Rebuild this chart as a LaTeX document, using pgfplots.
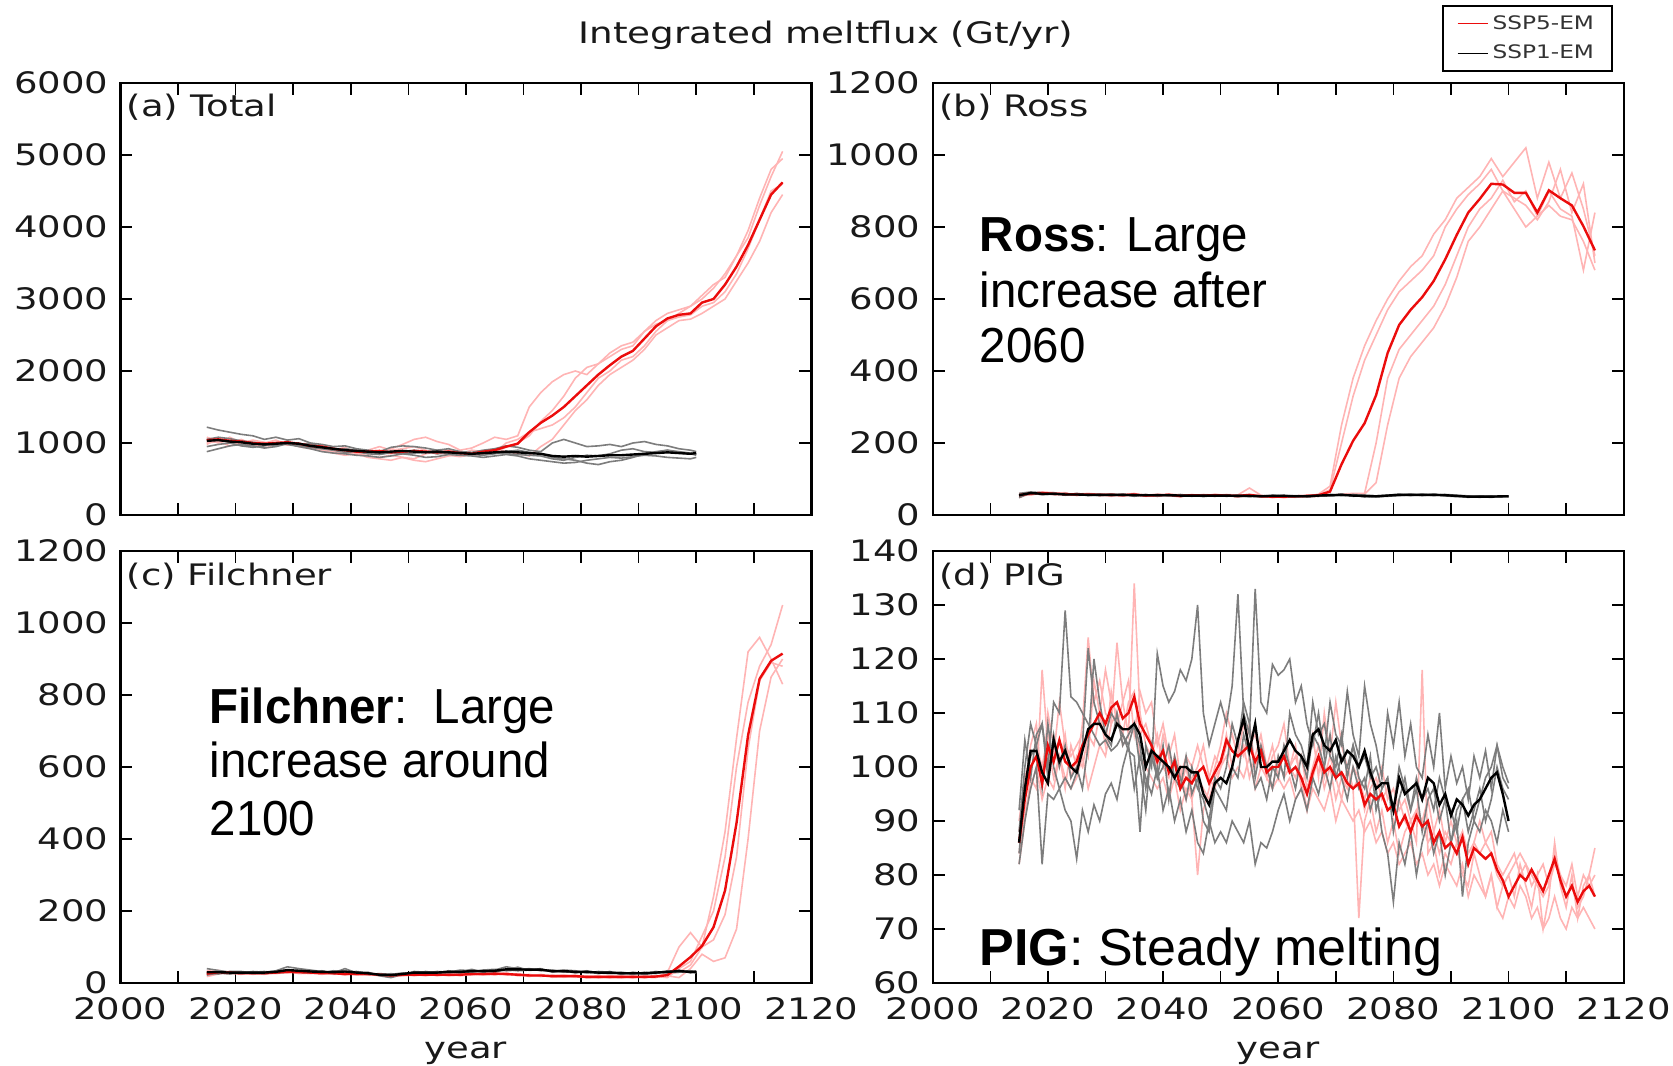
\documentclass[border=0pt]{standalone}
\usepackage{pgfplots}
\pgfplotsset{compat=1.18}
\usepackage{pgfplotstable}
\usepackage{fontspec}
\newfontfamily\mplfont[FakeStretch=1.25]{DejaVu Sans}
\newfontfamily\mpltitle[FakeStretch=1.26]{DejaVu Sans}
\newfontfamily\annfont[FakeStretch=0.965]{Liberation Sans}
\newfontfamily\pigfont{Liberation Sans}
\newcommand\ticklbl{\mplfont\fontsize{14.8}{17}\selectfont}

\definecolor{emred}{RGB}{235,12,12}
\definecolor{mempink}{RGB}{255,180,180}
\definecolor{memgray}{RGB}{125,125,125}

% ---------------- (a) Total ----------------
\pgfplotstableread{
year m1 m2 m3 m4 mean
2015 980 1050 1000 1080 1040
2017 1070 1000 1020 1030 1050
2019 1000 1080 960 1050 1030
2021 1050 1000 1000 960 1020
2023 980 1040 950 1000 1000
2025 960 1010 1000 930 990
2027 1010 960 1040 970 1000
2029 970 1020 980 1000 1010
2031 1000 980 960 950 990
2033 940 1000 930 920 960
2035 900 930 900 960 950
2037 880 900 860 900 920
2039 850 940 830 870 900
2041 900 860 850 830 880
2043 850 820 800 900 880
2045 870 800 780 950 890
2047 920 830 760 900 870
2049 980 800 800 920 880
2051 1050 780 760 950 890
2053 1080 850 740 900 880
2055 1020 880 780 850 870
2057 980 830 820 900 880
2059 900 810 850 870 860
2061 930 840 900 830 850
2063 1000 860 880 850 880
2065 1080 880 920 870 900
2067 1050 940 880 1000 950
2069 1100 1000 850 1050 990
2071 1500 1100 820 1150 1150
2073 1700 1300 950 1200 1280
2075 1850 1450 1050 1250 1380
2077 1950 1650 1250 1350 1500
2079 2000 1900 1450 1500 1650
2081 1950 2050 1600 1700 1800
2083 2100 2100 1800 1900 1950
2085 2250 2200 1950 2000 2080
2087 2350 2300 2050 2150 2200
2089 2400 2350 2150 2200 2280
2091 2550 2550 2300 2350 2450
2093 2700 2650 2500 2550 2620
2095 2800 2700 2600 2700 2730
2097 2850 2800 2700 2750 2780
2099 2900 2900 2720 2780 2800
2101 3050 3000 2800 2900 2950
2103 3200 3150 2900 2950 3000
2105 3300 3350 3000 3100 3200
2107 3600 3600 3250 3350 3450
2109 3950 3850 3500 3700 3750
2111 4400 4300 3800 4100 4100
2113 4800 4700 4200 4500 4450
2115 4950 5050 4450 4600 4620
}\totalfive
\pgfplotstableread{
year m1 m2 m3 m4 mean
2015 1220 950 1050 880 1030
2017 1180 980 1080 920 1040
2019 1150 1000 1060 960 1020
2021 1120 960 1030 980 1010
2023 1100 940 1010 960 990
2025 1050 960 990 930 980
2027 1080 1000 960 950 990
2029 1040 980 1010 990 1000
2031 1060 950 980 960 990
2033 1000 920 990 940 960
2035 980 880 950 920 940
2037 950 860 900 900 920
2039 960 850 920 870 900
2041 920 830 900 880 890
2043 900 820 880 850 880
2045 880 800 850 840 870
2047 940 820 860 870 880
2049 960 850 870 850 890
2051 950 830 900 860 880
2053 930 800 880 870 870
2055 900 810 850 900 880
2057 920 840 860 860 870
2059 880 830 870 850 860
2061 870 820 840 860 850
2063 900 800 830 880 860
2065 920 820 850 860 870
2067 960 840 880 850 880
2069 940 820 900 840 870
2071 900 780 870 830 860
2073 880 760 850 820 850
2075 1000 740 800 780 820
2077 1050 720 780 760 810
2079 1000 730 760 800 820
2081 950 760 720 830 810
2083 960 780 700 820 820
2085 980 800 740 850 830
2087 950 790 760 900 830
2089 1000 810 800 920 840
2091 1020 830 850 880 850
2093 980 820 880 870 860
2095 960 800 900 900 870
2097 920 790 880 860 860
2099 900 780 860 850 850
2100 880 800 840 830 860
}\totalone

% ---------------- (b) Ross ----------------
\pgfplotstableread{
year m1 m2 m3 m4 mean
2015 52 60 48 58 55
2017 62 58 60 55 60
2019 60 64 57 62 61
2021 58 62 60 56 59
2023 60 55 62 58 58
2025 56 60 54 58 57
2027 58 55 57 60 57
2029 54 58 56 57 56
2031 57 52 58 55 56
2033 55 58 53 56 55
2035 58 54 56 60 57
2037 53 57 55 52 54
2039 56 52 58 55 55
2041 55 58 54 57 56
2043 52 55 50 56 53
2045 56 53 57 54 55
2047 54 57 52 55 54
2049 52 55 58 54 55
2051 55 52 54 57 54
2053 53 56 50 55 53
2055 56 75 54 52 56
2057 52 55 50 54 52
2059 54 50 52 48 51
2061 50 54 48 52 51
2063 53 50 52 49 52
2065 52 55 50 54 53
2067 58 56 52 54 55
2069 80 70 55 55 65
2071 250 200 58 56 141
2073 380 330 60 55 206
2075 470 430 60 58 255
2077 540 500 200 90 333
2079 600 570 380 250 450
2081 650 620 460 380 528
2083 690 650 500 440 570
2085 720 680 540 480 605
2087 780 720 580 520 650
2089 820 800 640 580 710
2091 880 850 720 660 778
2093 910 890 800 760 840
2095 940 920 850 800 878
2097 990 960 880 850 920
2099 940 900 930 900 918
2101 980 880 870 850 895
2103 1020 860 900 800 895
2105 880 820 830 830 840
2107 980 870 860 900 902
2109 880 960 830 850 880
2111 950 840 820 830 860
2113 850 920 760 680 802
2115 720 700 680 840 735
}\rossfive
\pgfplotstableread{
year m1 m2 m3 m4 mean
2015 52 60 55 48 55
2017 60 64 58 62 61
2019 58 62 60 56 59
2021 60 57 62 58 59
2023 56 60 55 58 57
2025 58 55 60 57 57
2027 54 58 56 57 56
2029 57 55 58 54 56
2031 55 58 54 57 56
2033 58 54 57 55 56
2035 52 57 55 58 55
2037 56 53 57 54 55
2039 54 57 52 56 55
2041 57 54 56 53 55
2043 52 55 54 57 54
2045 55 52 56 53 54
2047 53 56 51 55 54
2049 56 53 55 52 54
2051 52 55 53 56 54
2053 54 51 56 53 53
2055 51 55 52 54 53
2057 54 50 53 52 52
2059 50 54 52 55 53
2061 53 51 55 52 53
2063 51 54 52 50 52
2065 54 52 50 53 52
2067 52 55 53 56 54
2069 55 53 57 54 55
2071 57 55 54 58 56
2073 54 57 55 52 54
2075 52 55 50 54 53
2077 50 53 52 51 52
2079 53 55 54 52 54
2081 55 58 56 54 56
2083 57 54 58 56 56
2085 55 58 54 57 56
2087 58 55 57 54 56
2089 55 57 53 56 55
2091 53 55 51 54 53
2093 50 53 52 49 51
2095 52 49 51 53 51
2097 50 53 49 52 51
2099 52 50 53 51 52
2100 51 53 50 52 52
}\rossone

% ---------------- (c) Filchner ----------------
\pgfplotstableread{
year m1 m2 m3 m4 mean
2015 18 30 22 35 26
2017 25 35 28 30 30
2019 30 28 25 32 29
2021 28 24 30 26 27
2023 26 30 24 28 27
2025 30 26 28 24 27
2027 28 32 26 30 29
2029 32 28 30 34 31
2031 28 34 30 26 30
2033 26 30 32 28 29
2035 30 26 28 24 27
2037 24 28 26 30 27
2039 26 22 28 25 25
2041 24 28 22 26 25
2043 22 26 24 28 25
2045 25 22 20 24 23
2047 22 18 24 20 21
2049 24 20 22 26 23
2051 26 22 24 20 23
2053 22 26 20 24 23
2055 24 20 26 22 23
2057 20 24 22 26 23
2059 22 26 24 20 23
2061 25 22 28 24 25
2063 22 26 24 28 25
2065 26 22 30 24 26
2067 24 28 22 26 25
2069 22 20 26 24 23
2071 20 24 22 18 21
2073 22 18 20 24 21
2075 18 22 20 16 19
2077 20 16 22 18 19
2079 16 20 18 22 19
2081 18 14 20 16 17
2083 20 16 14 18 17
2085 16 20 18 14 17
2087 14 18 16 20 17
2089 18 14 20 16 17
2091 16 20 14 18 17
2093 15 18 20 16 18
2095 30 15 20 25 22
2097 100 40 15 30 46
2099 140 60 40 50 72
2101 100 130 80 100 103
2103 240 200 60 120 155
2105 420 350 70 190 257
2107 680 600 150 350 445
2109 920 780 400 650 688
2111 960 880 700 840 845
2113 900 940 850 890 895
2115 830 1050 900 880 915
}\filchfive
\pgfplotstableread{
year m1 m2 m3 m4 mean
2015 40 22 30 28 30
2017 35 28 32 25 30
2019 30 25 28 32 29
2021 28 30 26 32 29
2023 32 26 30 28 29
2025 30 28 32 26 29
2027 34 30 28 32 31
2029 45 32 30 36 36
2031 40 35 32 30 34
2033 36 30 34 28 32
2035 32 28 30 34 31
2037 30 34 28 26 30
2039 28 32 40 30 32
2041 30 26 28 32 29
2043 26 30 24 28 27
2045 24 20 26 22 23
2047 22 15 24 26 22
2049 26 24 28 22 25
2051 30 26 28 32 29
2053 28 32 26 30 29
2055 32 28 30 26 29
2057 30 34 28 32 31
2059 36 30 32 28 31
2061 34 38 30 32 33
2063 32 30 36 34 33
2065 36 34 38 30 34
2067 45 36 34 38 38
2069 40 44 36 34 38
2071 38 35 40 36 37
2073 36 38 34 40 37
2075 34 32 36 30 33
2077 32 36 30 34 33
2079 30 34 32 28 31
2081 32 28 30 34 31
2083 30 32 28 26 29
2085 28 30 26 32 29
2087 30 26 28 24 27
2089 26 28 24 30 27
2091 28 24 30 26 27
2093 30 28 26 32 29
2095 32 30 34 28 31
2097 34 30 32 36 33
2099 32 34 30 28 31
2100 30 32 28 34 31
}\filchone

% ---------------- (d) PIG ----------------
\pgfplotstableread{
year m1 m2 m3 m4 mean
2015 82 88 84 90 86
2016 90 96 92 98 94
2017 98 104 96 102 100
2018 96 108 100 104 102
2019 118 96 94 100 97
2020 104 110 98 106 104
2021 98 104 96 102 101
2022 102 100 102 112 105
2023 96 106 98 104 101
2024 104 98 96 102 100
2025 100 102 98 104 101
2026 108 100 102 106 104
2027 124 106 96 102 106
2028 112 104 100 116 108
2029 116 110 104 110 110
2030 110 118 102 104 108
2031 108 112 108 114 111
2032 123 110 110 108 112
2033 112 106 104 112 109
2034 106 112 106 116 110
2035 134 114 108 106 113
2036 110 106 102 114 108
2037 104 108 100 110 106
2038 102 104 98 112 104
2039 106 100 96 104 101
2040 100 106 98 108 103
2041 98 102 94 102 99
2042 102 98 98 106 101
2043 96 100 92 98 96
2044 100 94 96 102 98
2045 94 98 94 100 97
2046 80 100 98 104 99
2047 92 104 96 100 100
2048 96 98 94 98 97
2049 100 102 98 96 99
2050 104 100 100 100 101
2051 110 106 102 104 105
2052 106 100 98 106 103
2053 102 104 100 102 102
2054 104 102 98 108 103
2055 98 108 102 104 104
2056 102 100 96 106 101
2057 106 104 100 102 103
2058 100 98 98 100 99
2059 96 102 96 104 100
2060 102 104 98 98 100
2061 98 108 96 104 102
2062 100 100 98 100 99
2063 104 98 94 102 100
2064 96 102 96 98 98
2065 100 96 92 92 95
2066 106 100 96 98 99
2067 98 104 94 102 102
2068 110 98 92 96 99
2069 102 102 96 100 100
2070 98 112 90 94 98
2071 94 104 94 98 99
2072 100 100 92 96 97
2073 96 96 90 100 96
2074 72 98 92 98 97
2075 90 94 88 92 93
2076 94 98 90 96 95
2077 88 96 86 98 94
2078 92 100 88 94 95
2079 86 94 84 96 92
2080 90 96 86 92 93
2081 84 92 82 94 89
2082 88 94 84 90 91
2083 90 90 86 88 88
2084 86 92 82 92 91
2085 118 90 84 90 89
2086 84 94 80 86 90
2087 86 88 82 88 86
2088 80 92 78 84 88
2089 84 86 82 88 85
2090 82 90 80 86 86
2091 86 86 78 84 84
2092 80 88 82 88 87
2093 78 84 76 82 82
2094 84 86 80 86 85
2095 80 90 78 84 84
2096 76 86 76 86 83
2097 80 88 80 84 84
2098 74 82 74 80 81
2099 78 80 72 78 79
2100 80 82 76 80 76
2101 76 84 74 82 78
2102 82 80 78 84 80
2103 78 82 76 82 79
2104 74 78 72 80 81
2105 80 80 74 78 79
2106 70 82 70 76 77
2107 76 78 72 78 80
2108 86 84 76 82 83
2109 78 80 72 80 79
2110 74 78 70 76 76
2111 80 82 74 78 78
2112 72 76 72 74 75
2113 78 80 74 76 77
2114 80 78 72 80 78
2115 85 80 70 76 76
}\pigfive
\pgfplotstableread{
year m1 m2 m3 m4 mean
2015 92 82 88 84 86
2016 105 90 100 96 96
2017 98 96 108 102 103
2018 106 100 104 104 103
2019 108 82 96 108 99
2020 100 95 108 98 97
2021 112 94 100 106 105
2022 110 96 96 100 101
2023 129 92 98 104 103
2024 113 90 96 98 100
2025 112 83 99 100 99
2026 110 92 104 96 103
2027 108 88 122 104 107
2028 106 93 112 120 108
2029 104 90 108 112 108
2030 105 95 106 106 106
2031 103 97 110 104 105
2032 104 94 108 110 108
2033 106 100 106 104 107
2034 103 104 104 106 107
2035 102 96 108 108 108
2036 88 102 100 104 106
2037 104 98 92 96 100
2038 100 95 104 102 103
2039 121 100 98 98 102
2040 115 92 100 104 101
2041 112 96 104 94 100
2042 114 90 98 102 98
2043 118 94 96 98 100
2044 116 88 102 94 100
2045 120 92 95 100 99
2046 130 86 98 96 99
2047 110 84 90 94 95
2048 104 90 88 90 93
2049 108 86 96 98 97
2050 112 88 94 96 98
2051 108 86 92 100 97
2052 115 90 100 108 100
2053 132 88 98 104 105
2054 110 86 106 112 109
2055 106 90 102 108 103
2056 133 82 96 98 108
2057 112 86 98 104 100
2058 110 85 94 100 100
2059 119 88 100 96 101
2060 117 92 98 102 101
2061 118 95 104 98 103
2062 120 90 100 110 105
2063 112 94 96 106 103
2064 115 96 102 104 102
2065 108 92 98 100 100
2066 104 98 106 112 106
2067 110 95 104 106 107
2068 102 100 100 108 104
2069 112 96 106 102 103
2070 106 102 98 100 105
2071 104 98 102 106 101
2072 114 94 100 98 103
2073 106 100 104 104 102
2074 102 96 98 100 100
2075 115 98 96 102 103
2076 108 92 102 98 99
2077 104 96 92 100 96
2078 98 88 96 96 97
2079 110 84 98 98 97
2080 104 75 88 92 92
2081 112 86 94 100 98
2082 102 82 98 96 95
2083 108 88 92 92 96
2084 100 80 96 98 97
2085 98 86 88 94 94
2086 106 90 94 96 98
2087 100 84 96 92 97
2088 110 88 90 98 93
2089 96 80 94 94 95
2090 102 86 86 92 91
2091 97 90 92 88 94
2092 100 76 94 94 93
2093 94 86 88 96 91
2094 102 90 92 90 93
2095 98 88 96 94 94
2096 103 92 90 98 96
2097 96 90 94 100 98
2098 104 86 100 104 99
2099 100 92 96 98 95
2100 97 88 94 96 90
}\pigone

\pgfplotsset{
  panel/.style={
    scale only axis, width=345.5pt, height=216pt,
    xmin=2000, xmax=2120,
    xtick={2000,2020,...,2120},
    minor xtick={2010,2030,...,2110},
    tick align=inside, tick pos=both,
    major tick length=6pt, minor tick length=6pt,
    every tick/.style={black, line width=0.8pt},
    every minor tick/.style={black, line width=0.8pt},
    axis line style={line width=1.2pt},
    tick label style={font=\ticklbl, text=black!90, inner sep=1pt},
    xticklabel style={yshift=-5.9pt},
    yticklabel style={xshift=-4.9pt},
    label style={font=\ticklbl, text=black!90},
    /pgf/number format/1000 sep={},
    /pgf/number format/assume math mode=true,
    anchor=north west,
  },
  mem5/.style={mempink, line width=0.8pt},
  mem1/.style={memgray, line width=0.8pt},
  em5/.style={emred, line width=1.2pt},
  em1/.style={black, line width=1.2pt},
}

% draws the four ensemble members and the ensemble mean of both scenarios
\newcommand\ensemble[2]{%
  \addplot[mem5] table[x=year,y=m1]{#1};
  \addplot[mem5] table[x=year,y=m2]{#1};
  \addplot[mem5] table[x=year,y=m3]{#1};
  \addplot[mem5] table[x=year,y=m4]{#1};
  \addplot[mem1] table[x=year,y=m1]{#2};
  \addplot[mem1] table[x=year,y=m2]{#2};
  \addplot[mem1] table[x=year,y=m3]{#2};
  \addplot[mem1] table[x=year,y=m4]{#2};
  \addplot[em5] table[x=year,y=mean]{#1};
  \addplot[em1] table[x=year,y=mean]{#2};
}

\newcommand\panellabel[1]{\node[anchor=base west, font=\ticklbl, text=black!90, inner sep=0pt]
  at ([xshift=3pt,yshift=-17pt]rel axis cs:0,1) {#1};}

\begin{document}
\begin{tikzpicture}
\useasboundingbox (0,0) rectangle (836.5pt,-532.5pt);

\node[anchor=base, font=\mpltitle\fontsize{14.8}{17}\selectfont, text=black!90, inner sep=0pt]
  at (413pt,-21.8pt) {Integrated meltflux (Gt/yr)};

% (a) Total
\begin{axis}[panel, at={(60.2pt,-41.5pt)},
  ymin=0, ymax=6000, ytick={0,1000,...,6000}, xticklabels={}]
  \ensemble{\totalfive}{\totalone}
  \panellabel{(a) Total}
\end{axis}

% (b) Ross
\begin{axis}[panel, at={(466.35pt,-41.5pt)},
  ymin=0, ymax=1200, ytick={0,200,...,1200}, xticklabels={},
  legend style={at={(0.9845,1.18)}, anchor=north east, draw=black, line width=1pt,
    font=\mplfont\fontsize{9.3}{11}\selectfont, text=black!80,
    inner xsep=7pt, inner ysep=2.5pt, row sep=2.5pt, cells={anchor=west},
    /tikz/every even column/.append style={column sep=6pt}},
  legend image code/.code={\draw[#1] (0pt,0pt) -- (15pt,0pt);}]
  \addlegendimage{emred, line width=0.8pt}
  \addlegendentry{SSP5-EM}
  \addlegendimage{black, line width=0.8pt}
  \addlegendentry{SSP1-EM}
  \ensemble{\rossfive}{\rossone}
  \panellabel{(b) Ross}
\end{axis}

% (c) Filchner
\begin{axis}[panel, at={(60.2pt,-275.5pt)},
  ymin=0, ymax=1200, ytick={0,200,...,1200},
  xlabel={year}, xlabel style={at={(axis description cs:0.5,0)}, anchor=center, yshift=-35pt}]
  \ensemble{\filchfive}{\filchone}
  \panellabel{(c) Filchner}
\end{axis}

% (d) PIG
\begin{axis}[panel, at={(466.35pt,-275.5pt)},
  ymin=60, ymax=140, ytick={60,70,...,140},
  xlabel={year}, xlabel style={at={(axis description cs:0.5,0)}, anchor=center, yshift=-35pt}]
  \ensemble{\pigfive}{\pigone}
  \panellabel{(d) PIG}
\end{axis}

% annotations
\begin{scope}[every node/.style={anchor=base west, inner sep=0pt,
    font=\annfont\fontsize{24.6}{28}\selectfont}]
  \node at (489.7pt,-125.9pt) {\textbf{Ross}: Large};
  \node at (489.7pt,-153.7pt) {increase after};
  \node at (489.7pt,-181.4pt) {2060};
  \node at (104.6pt,-361.7pt) {\textbf{Filchner}:\ \ Large};
  \node at (104.6pt,-388.9pt) {increase around};
  \node at (104.6pt,-417.7pt) {2100};
  \node[font=\pigfont\fontsize{26}{30}\selectfont] at (489.7pt,-482.8pt) {\textbf{PIG}: Steady melting};
\end{scope}
\end{tikzpicture}
\end{document}
